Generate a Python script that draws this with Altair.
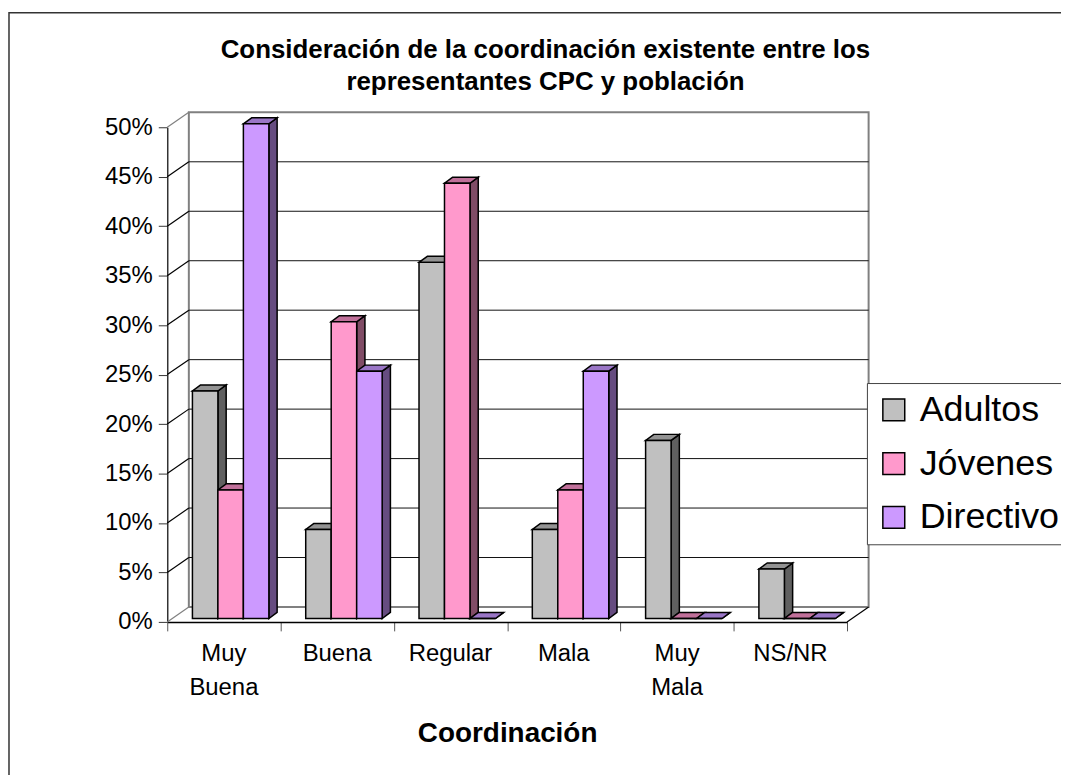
import altair as alt
import pandas as pd

# ---------------- data ----------------
categories = ["Muy Buena", "Buena", "Regular", "Mala", "Muy Mala", "NS/NR"]
series = ["Adultos", "Jóvenes", "Directivo"]
adultos = [0.23, 0.09, 0.36, 0.09, 0.18, 0.05]
jovenes = [0.13, 0.30, 0.44, 0.13, 0.00, 0.00]
directivo = [0.50, 0.25, 0.00, 0.25, 0.00, 0.00]
y_ticks = [0.0, 0.05, 0.10, 0.15, 0.20, 0.25, 0.30, 0.35, 0.40, 0.45, 0.50]
title_lines = ["Consideración de la coordinación existente entre los",
               "representantes CPC y población"]
x_title = "Coordinación"

# ---------------- style ----------------
front_colors = ["#C0C0C0", "#FF99CC", "#CC99FF"]
side_colors = ["#606060", "#804C66", "#664C80"]
top_colors = ["#939393", "#C0709A", "#9A76C6"]
FONT = "Liberation Sans"

W, H = 683, 497
N = len(categories)
YMAX = 0.5
PX_X = N / W          # data units per pixel (x)
PX_Y = YMAX / H       # data units per pixel (y)
BAR_X0 = 25.3 * PX_X  # gap from band start to first bar
BAR_W = 25.6 * PX_X   # bar width
BASE = 3.4 * PX_Y     # bars sit slightly behind the front edge
DDX = 8.3 * PX_X      # bar depth (x)
DDY = 6.1 * PX_Y      # bar depth (y)
WDX = 21.7 * PX_X     # wall depth (x)
WDY = 15.0 * PX_Y     # wall depth (y)

values = [adultos, jovenes, directivo]

front_rows, side_rows, top_rows = [], [], []
for i, cat in enumerate(categories):
    for j, s in enumerate(series):
        v = values[j][i]
        xl = i + BAR_X0 + j * BAR_W
        xr = xl + BAR_W
        yb = BASE
        yt = v + BASE
        bid = f"{i}-{j}"
        front_rows.append(dict(cat=cat, series=s, x=xl, x2=xr, y=yt, y2=yb))
        side_rows.append(dict(bar=bid, x=xr, y=yt, y2=yb, c=side_colors[j]))
        side_rows.append(dict(bar=bid, x=xr + DDX, y=yt + DDY, y2=yb + DDY, c=side_colors[j]))
        top_rows.append(dict(bar=bid, y=yt, x=xl, x2=xr, c=top_colors[j]))
        top_rows.append(dict(bar=bid, y=yt + DDY, x=xl + DDX, x2=xr + DDX, c=top_colors[j]))

front_df = pd.DataFrame(front_rows)
side_df = pd.DataFrame(side_rows)
top_df = pd.DataFrame(top_rows)

grid_df = pd.DataFrame({"x": WDX, "x2": N + WDX,
                        "y": [t + WDY for t in y_ticks[1:-1]]})
diag_rows = []
for t in y_ticks:
    col = "#808080" if t in (y_ticks[0], y_ticks[-1]) else "#000000"
    diag_rows.append(dict(x=0, x2=WDX, y=t, y2=t + WDY, c=col))
diag_rows.append(dict(x=N, x2=N + WDX, y=0, y2=WDY, c="#000000"))
diag_df = pd.DataFrame(diag_rows)
wall_df = pd.DataFrame({"x": [WDX], "x2": [N + WDX], "y": [WDY], "y2": [YMAX + WDY]})
label_df = pd.DataFrame({"cat": categories, "x": [i + 0.5 for i in range(N)], "y": 0.0})

xs = alt.Scale(domain=[0, N], nice=False, zero=False)
ys = alt.Scale(domain=[0, YMAX], nice=False, zero=False)

x_axis = alt.Axis(
    values=list(range(N + 1)), labels=False, tickSize=9, tickColor="#555555",
    domainColor="#000000", domainWidth=1.5, grid=False, title=x_title,
    titleFont=FONT, titleFontSize=28, titleFontWeight="bold", titleColor="black",
    titleBaseline="alphabetic", titleY=120)
y_axis = alt.Axis(
    values=y_ticks, format=".0%", labelFont=FONT, labelFontSize=24, labelColor="black",
    labelPadding=6, tickSize=9, tickColor="#333333", domainColor="#333333",
    domainWidth=1.5, grid=False, title=None)


def X(field, **kw):
    return alt.X(field, scale=xs, axis=x_axis, **kw)


def Y(field, **kw):
    return alt.Y(field, scale=ys, axis=y_axis, **kw)


frame = alt.Chart(pd.DataFrame({"a": [0]})).mark_rect(
    fillOpacity=0, stroke="#333333", strokeWidth=1.5
).encode(x=alt.value(-159), x2=alt.value(W + 240), y=alt.value(-115), y2=alt.value(H + 220))

wall = alt.Chart(wall_df).mark_rect(fillOpacity=0, stroke="#808080", strokeWidth=2).encode(
    x=X("x:Q"), x2="x2:Q", y=Y("y:Q"), y2="y2:Q")

grid = alt.Chart(grid_df).mark_rule(color="#111111", strokeWidth=1).encode(
    x=X("x:Q"), x2="x2:Q", y=Y("y:Q"))

diag = alt.Chart(diag_df).mark_rule(strokeWidth=1.2).encode(
    x=X("x:Q"), x2="x2:Q", y=Y("y:Q"), y2="y2:Q",
    stroke=alt.Stroke("c:N", scale=None))

side = alt.Chart(side_df).mark_area(orient="vertical", stroke="black", strokeWidth=1.5, opacity=1).encode(
    x=X("x:Q"), y=Y("y:Q", stack=None), y2="y2:Q",
    detail="bar:N", fill=alt.Fill("c:N", scale=None))

top = alt.Chart(top_df).mark_area(orient="horizontal", stroke="black", strokeWidth=1.5, opacity=1).encode(
    y=Y("y:Q"), x=X("x:Q", stack=None), x2="x2:Q",
    detail="bar:N", fill=alt.Fill("c:N", scale=None))

front = alt.Chart(front_df).mark_rect(stroke="black", strokeWidth=1.5).encode(
    x=X("x:Q"), x2="x2:Q", y=Y("y:Q"), y2="y2:Q",
    fill=alt.Fill("series:N", scale=alt.Scale(domain=series, range=front_colors),
                  legend=alt.Legend(orient="none", legendX=703, legendY=257, title=None,
                                    labelFont=FONT, labelFontSize=36, labelColor="black",
                                    labelLimit=400, symbolType="square", symbolSize=484,
                                    symbolStrokeColor="black", symbolStrokeWidth=1.5,
                                    strokeColor="#444444", fillColor="white", padding=9,
                                    rowPadding=18, labelOffset=8)))

labels = alt.Chart(label_df).mark_text(
    font=FONT, fontSize=24, lineBreak=" ", lineHeight=34, baseline="alphabetic",
    align="center", dy=39.7, color="black"
).encode(x=X("x:Q"), y=Y("y:Q"), text="cat:N")

title = alt.Chart(pd.DataFrame({"a": [0]})).mark_text(
    text=title_lines, font=FONT, fontSize=26, fontWeight="bold", lineHeight=31.7,
    baseline="alphabetic", align="center", color="black"
).encode(x=alt.value(380), y=alt.value(-69.3))

chart = alt.layer(frame, wall, grid, diag, side, top, front, labels, title).properties(
    width=W, height=H,
    background="white",
    padding={"left": 160, "top": 118, "right": 215, "bottom": 152},
    autosize=alt.AutoSizeParams(type="none"),
).configure_view(stroke="transparent", strokeWidth=0)

chart.save("out.html", embed_options={"renderer": "svg", "actions": False})
